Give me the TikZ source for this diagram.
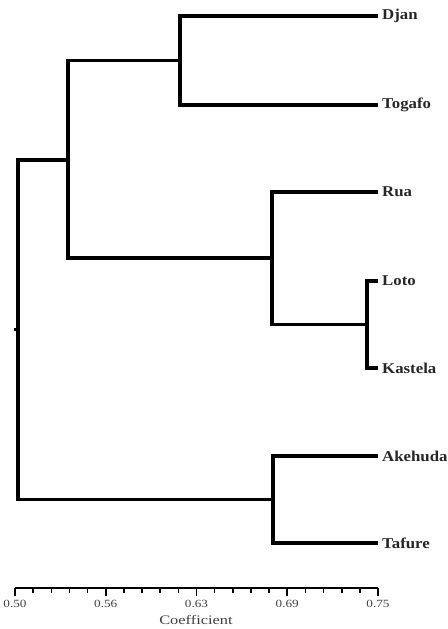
\documentclass[tikz,border=0pt]{standalone}
\usepackage{fontspec}
\setmainfont{Liberation Serif}
\begin{document}
\begin{tikzpicture}[x=1pt,y=-1pt,
  branch/.style={line width=3.4pt, line join=miter},
  leaflab/.style={anchor=west, inner sep=0pt, font=\fontsize{15}{16}\selectfont\bfseries, xscale=1.12, text=black!85},
  ticklab/.style={anchor=center, inner sep=0pt, font=\fontsize{11}{12}\selectfont, xscale=1.2, text=black!75},
  axisline/.style={line width=1.6pt}]
\useasboundingbox (0,0) rectangle (447,629);
% leaf end points
\coordinate (lDjan) at (378,16);
\coordinate (lTogafo) at (378,105);
\coordinate (lRua) at (378,192);
\coordinate (lLoto) at (378,281);
\coordinate (lKastela) at (378,368);
\coordinate (lAkehuda) at (378,456);
\coordinate (lTafure) at (378,543);
% labels
\node[leaflab] (Djan) at (382,16) {Djan};
\node[leaflab] (Togafo) at (382,105) {Togafo};
\node[leaflab] (Rua) at (382,192) {Rua};
\node[leaflab] (Loto) at (382,281) {Loto};
\node[leaflab] (Kastela) at (382,368) {Kastela};
\node[leaflab] (Akehuda) at (382,456) {Akehuda};
\node[leaflab] (Tafure) at (382,543) {Tafure};
% internal nodes
\coordinate (nDT) at (180,60.5);
\coordinate (nLK) at (367,324.5);
\coordinate (nR) at (272,258);
\coordinate (nA) at (68,160);
\coordinate (nAT) at (273,499.5);
\coordinate (root) at (18,329.5);
\coordinate (stub) at (14,329.5);
% branches
\draw[branch] (lDjan) -| (nDT) |- (lTogafo);
\draw[branch] (lLoto) -| (nLK) |- (lKastela);
\draw[branch] (lRua) -| (nR) |- (nLK);
\draw[branch] (nDT) -| (nA) |- (nR);
\draw[branch] (lAkehuda) -| (nAT) |- (lTafure);
\draw[branch] (nA) -| (root) |- (nAT);
\draw[branch] (stub) -- (root);
% axis
\coordinate (ax0) at (15,588);
\coordinate (ax1) at (378,588);
\draw[axisline] (ax0) -- (ax1);
\foreach \i in {0,...,20} {
  \pgfmathsetmacro{\xx}{15+\i*18.15}
  \pgfmathtruncatemacro{\mj}{mod(\i,5)==0 ? 1 : 0}
  \ifnum\mj=1
    \draw[axisline] (\xx,588) -- (\xx,596);
  \else
    \draw[axisline] (\xx,588) -- (\xx,593);
  \fi
}
\node[ticklab] (t0) at (15,604) {0.50};
\node[ticklab] (t1) at (105.75,604) {0.56};
\node[ticklab] (t2) at (196.5,604) {0.63};
\node[ticklab] (t3) at (287.25,604) {0.69};
\node[ticklab] (t4) at (378,604) {0.75};
\node[ticklab, font=\fontsize{13}{14}\selectfont, xscale=1.05] (coef) at (196,620) {Coefficient};
\end{tikzpicture}
\end{document}
